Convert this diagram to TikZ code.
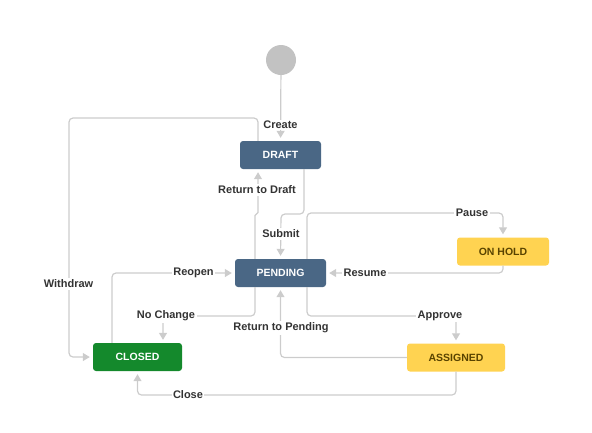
\documentclass[tikz,border=0pt]{standalone}
\usepackage{fontspec}
\setmainfont{Liberation Sans}
\usetikzlibrary{arrows.meta}
\definecolor{slate}{HTML}{4A6785}
\definecolor{amber}{HTML}{FFD351}
\definecolor{amberink}{HTML}{594300}
\definecolor{leaf}{HTML}{14892C}
\definecolor{wire}{HTML}{CCCCCC}
\definecolor{ink}{HTML}{333333}
\tikzset{
    state/.style={rectangle, rounded corners=3pt, minimum height=28pt,
        inner sep=0pt, font=\bfseries\fontsize{10.5}{12}\selectfont},
    todo/.style={state, fill=slate, text=white},
    wait/.style={state, fill=amber, text=amberink},
    done/.style={state, fill=leaf, text=white},
    flow/.style={draw=wire, line width=1.2pt, rounded corners=4pt,
        -{Triangle[width=8pt,length=7pt]}, shorten >=3pt},
    tag/.style={fill=white, text=ink, inner sep=1.5pt,
        font=\bfseries\fontsize{11}{13}\selectfont}
}

\begin{document}
\begin{tikzpicture}[x=1pt, y=-1pt]
	\useasboundingbox (0,0) rectangle (592,432);
	\node (start) [circle, fill=black!24, minimum size=30pt, inner sep=0pt] at (281,60) {};
	\node (draft) [todo, minimum width=81pt] at (280.5,155) {DRAFT};
	\node (pending) [todo, minimum width=91pt] at (280.5,273) {PENDING};
	\node (onhold) [wait, minimum width=92pt] at (503,251.5) {ON HOLD};
	\node (assigned) [wait, minimum width=98pt] at (456,357.5) {ASSIGNED};
	\node (closed) [done, minimum width=89pt] at (137.5,357) {CLOSED};

	\draw [flow] (start) -- (draft);
	\draw [flow] ([xshift=-22.5pt]draft.north) |- (69,118) |- (closed.west);
	\draw [flow, rounded corners=1.5pt] ([xshift=-25.5pt]pending.north) |- (258,214) -- ([xshift=-22.5pt]draft.south);
	\draw [flow] ([xshift=23.5pt]draft.south) |- (281,214) -- (pending.north);
	\draw [flow] ([xshift=26.5pt]pending.north) -- (307,213) -| (onhold.north);
	\draw [flow] (onhold.south) |- (pending.east);
	\draw [flow] ([xshift=26.5pt]pending.south) -- (307,316) -| (assigned.north);
	\draw [flow] (assigned.west) -| (pending.south);
	\draw [flow] ([xshift=-25.5pt]pending.south) -- (255,316) -| ([xshift=25.5pt]closed.north);
	\draw [flow] ([xshift=-25.5pt]closed.north) |- (pending.west);
	\draw [flow] (assigned.south) -- (456,395) -| (closed.south);

	\node (create) [tag] at (280.5,125) {Create};
	\node (withdraw) [tag] at (68.5,284) {Withdraw};
	\node (todraft) [tag] at (257,190) {Return to Draft};
	\node (submit) [tag] at (281,234) {Submit};
	\node (pause) [tag] at (472,213) {Pause};
	\node (resume) [tag] at (365,273) {Resume};
	\node (approve) [tag] at (440,316) {Approve};
	\node (topending) [tag] at (281,328) {Return to Pending};
	\node (nochange) [tag] at (166,316) {No Change};
	\node (reopen) [tag] at (193.5,273) {Reopen};
	\node (close) [tag] at (188,395) {Close};
\end{tikzpicture}
\end{document}
